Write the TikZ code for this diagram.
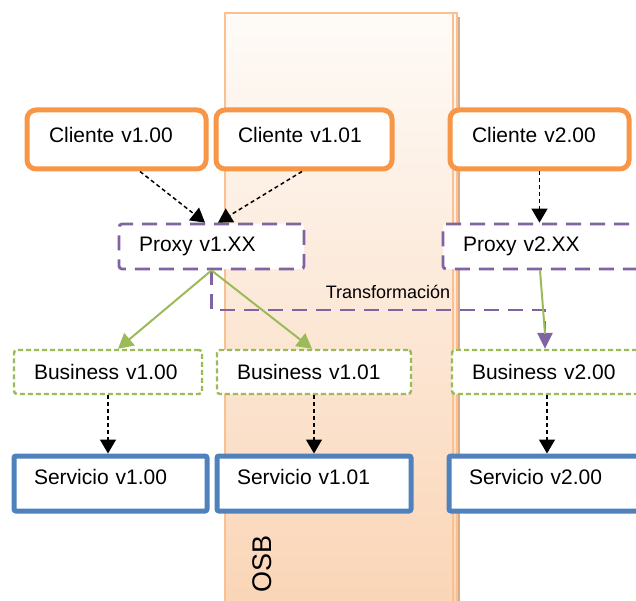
\documentclass[tikz,border=0pt]{standalone}
\usepackage{fontspec}
\setmainfont{Liberation Sans}
\usepackage{xcolor}
\usetikzlibrary{arrows.meta}
\definecolor{cliorange}{RGB}{247,150,70}
\definecolor{srvblue}{RGB}{79,129,189}
\definecolor{busgreen}{RGB}{155,187,89}
\definecolor{prxpurple}{RGB}{128,100,162}
\definecolor{bandtop}{RGB}{254,251,248}
\definecolor{bandbot}{RGB}{250,213,182}
\definecolor{bandline}{RGB}{250,192,143}
\definecolor{bandshadow}{RGB}{214,172,140}
\tikzset{
	clinode/.style={rectangle, rounded corners=9pt, draw=cliorange, fill=white, line width=5pt, minimum height=59pt, inner xsep=22pt, align=left, text depth=9pt},
	prxnode/.style={rectangle, rounded corners=3pt, draw=prxpurple, fill=white, line width=2.8pt, dash pattern=on 15pt off 9pt, minimum height=45pt, inner xsep=20pt, align=left},
	busnode/.style={rectangle, rounded corners=3pt, draw=busgreen, fill=white, line width=2.4pt, dash pattern=on 5pt off 3pt, minimum height=44pt, inner xsep=20pt, align=left},
	srvnode/.style={rectangle, rounded corners=2pt, draw=srvblue, fill=white, line width=5pt, minimum height=55pt, inner xsep=20pt, align=left, text depth=13pt},
	calltip/.style={-{Triangle[width=16pt,length=14pt]}, line width=1.5pt, dash pattern=on 4pt off 3pt},
	routetip/.style={-{Triangle[width=16pt,length=15pt]}, draw=busgreen, line width=2pt},
	transtip/.style={-{Triangle[width=15pt,length=16pt]}, draw=prxpurple, line width=2.8pt, dash pattern=on 15pt off 9pt}
}

\begin{document}
\begin{tikzpicture}[x=1pt, y=-1pt, font=\fontsize{21}{25}\selectfont]
	\useasboundingbox (0,0) rectangle (636,601);
	\clip (0,0) rectangle (636,601);
	
	\fill[bandshadow] (229,17) rectangle (460,610);
	\shade[top color=bandtop, bottom color=bandbot, draw=bandline, line width=1.5pt] (225,13) rectangle (457,610);
	\draw[bandline, line width=1.5pt] (453,13) -- (453,610);
	\node[rotate=90, font=\fontsize{27}{30}\selectfont] at (262,564) (OSB) {OSB};
	
	\node[clinode, text width=135pt] at (116.5,139.5) (C100) {Cliente v1.00};
	\node[clinode, text width=132pt] at (304,139.5) (C101) {Cliente v1.01};
	\node[clinode, text width=135pt] at (539.5,139.5) (C200) {Cliente v2.00};
	
	\node[prxnode, text width=145pt] at (211.5,246.5) (P1) {Proxy v1.XX};
	\node[prxnode, text width=197pt] at (561.5,246.5) (P2) {Proxy v2.XX};
	
	\node[busnode, text width=148pt] at (108,372) (B100) {Business v1.00};
	\node[busnode, text width=154pt] at (314,372) (B101) {Business v1.01};
	\node[busnode, text width=188pt] at (566,372) (B200) {Business v2.00};
	
	\node[srvnode, text width=153pt] at (110.5,483.5) (S100) {Servicio v1.00};
	\node[srvnode, text width=154pt] at (314,483.5) (S101) {Servicio v1.01};
	\node[srvnode, text width=191pt] at (564.5,483.5) (S200) {Servicio v2.00};
	
	\draw[calltip] ([xshift=23.5pt]C100.south) -- ([xshift=-6.5pt]P1.north);
	\draw[calltip] ([xshift=-2pt]C101.south) -- ([xshift=6.5pt]P1.north);
	\draw[calltip] (C200.south) -- (C200.south |- P2.north);
	
	\coordinate (Tc) at (545,310);
	\node[font=\fontsize{18}{22}\selectfont] at (388,292) (Tr) {Transformación};
	\draw[transtip] (P1.south) |- (Tc) -- ([xshift=-21pt]B200.north);
	\draw[busgreen, line width=2pt] ([xshift=-21.5pt]P2.south) -- ([xshift=-21pt,yshift=15pt]B200.north);
	
	\draw[routetip] (P1.south) -- ([xshift=10pt]B100.north);
	\draw[routetip] (P1.south) -- ([xshift=-2pt]B101.north);
	
	\draw[calltip] (B100.south) -- (B100.south |- S100.north);
	\draw[calltip] (B101.south) -- (B101.south |- S101.north);
	\draw[calltip] ([xshift=-19pt]B200.south) -- ([xshift=-19pt]B200.south |- S200.north);
\end{tikzpicture}
\end{document}
